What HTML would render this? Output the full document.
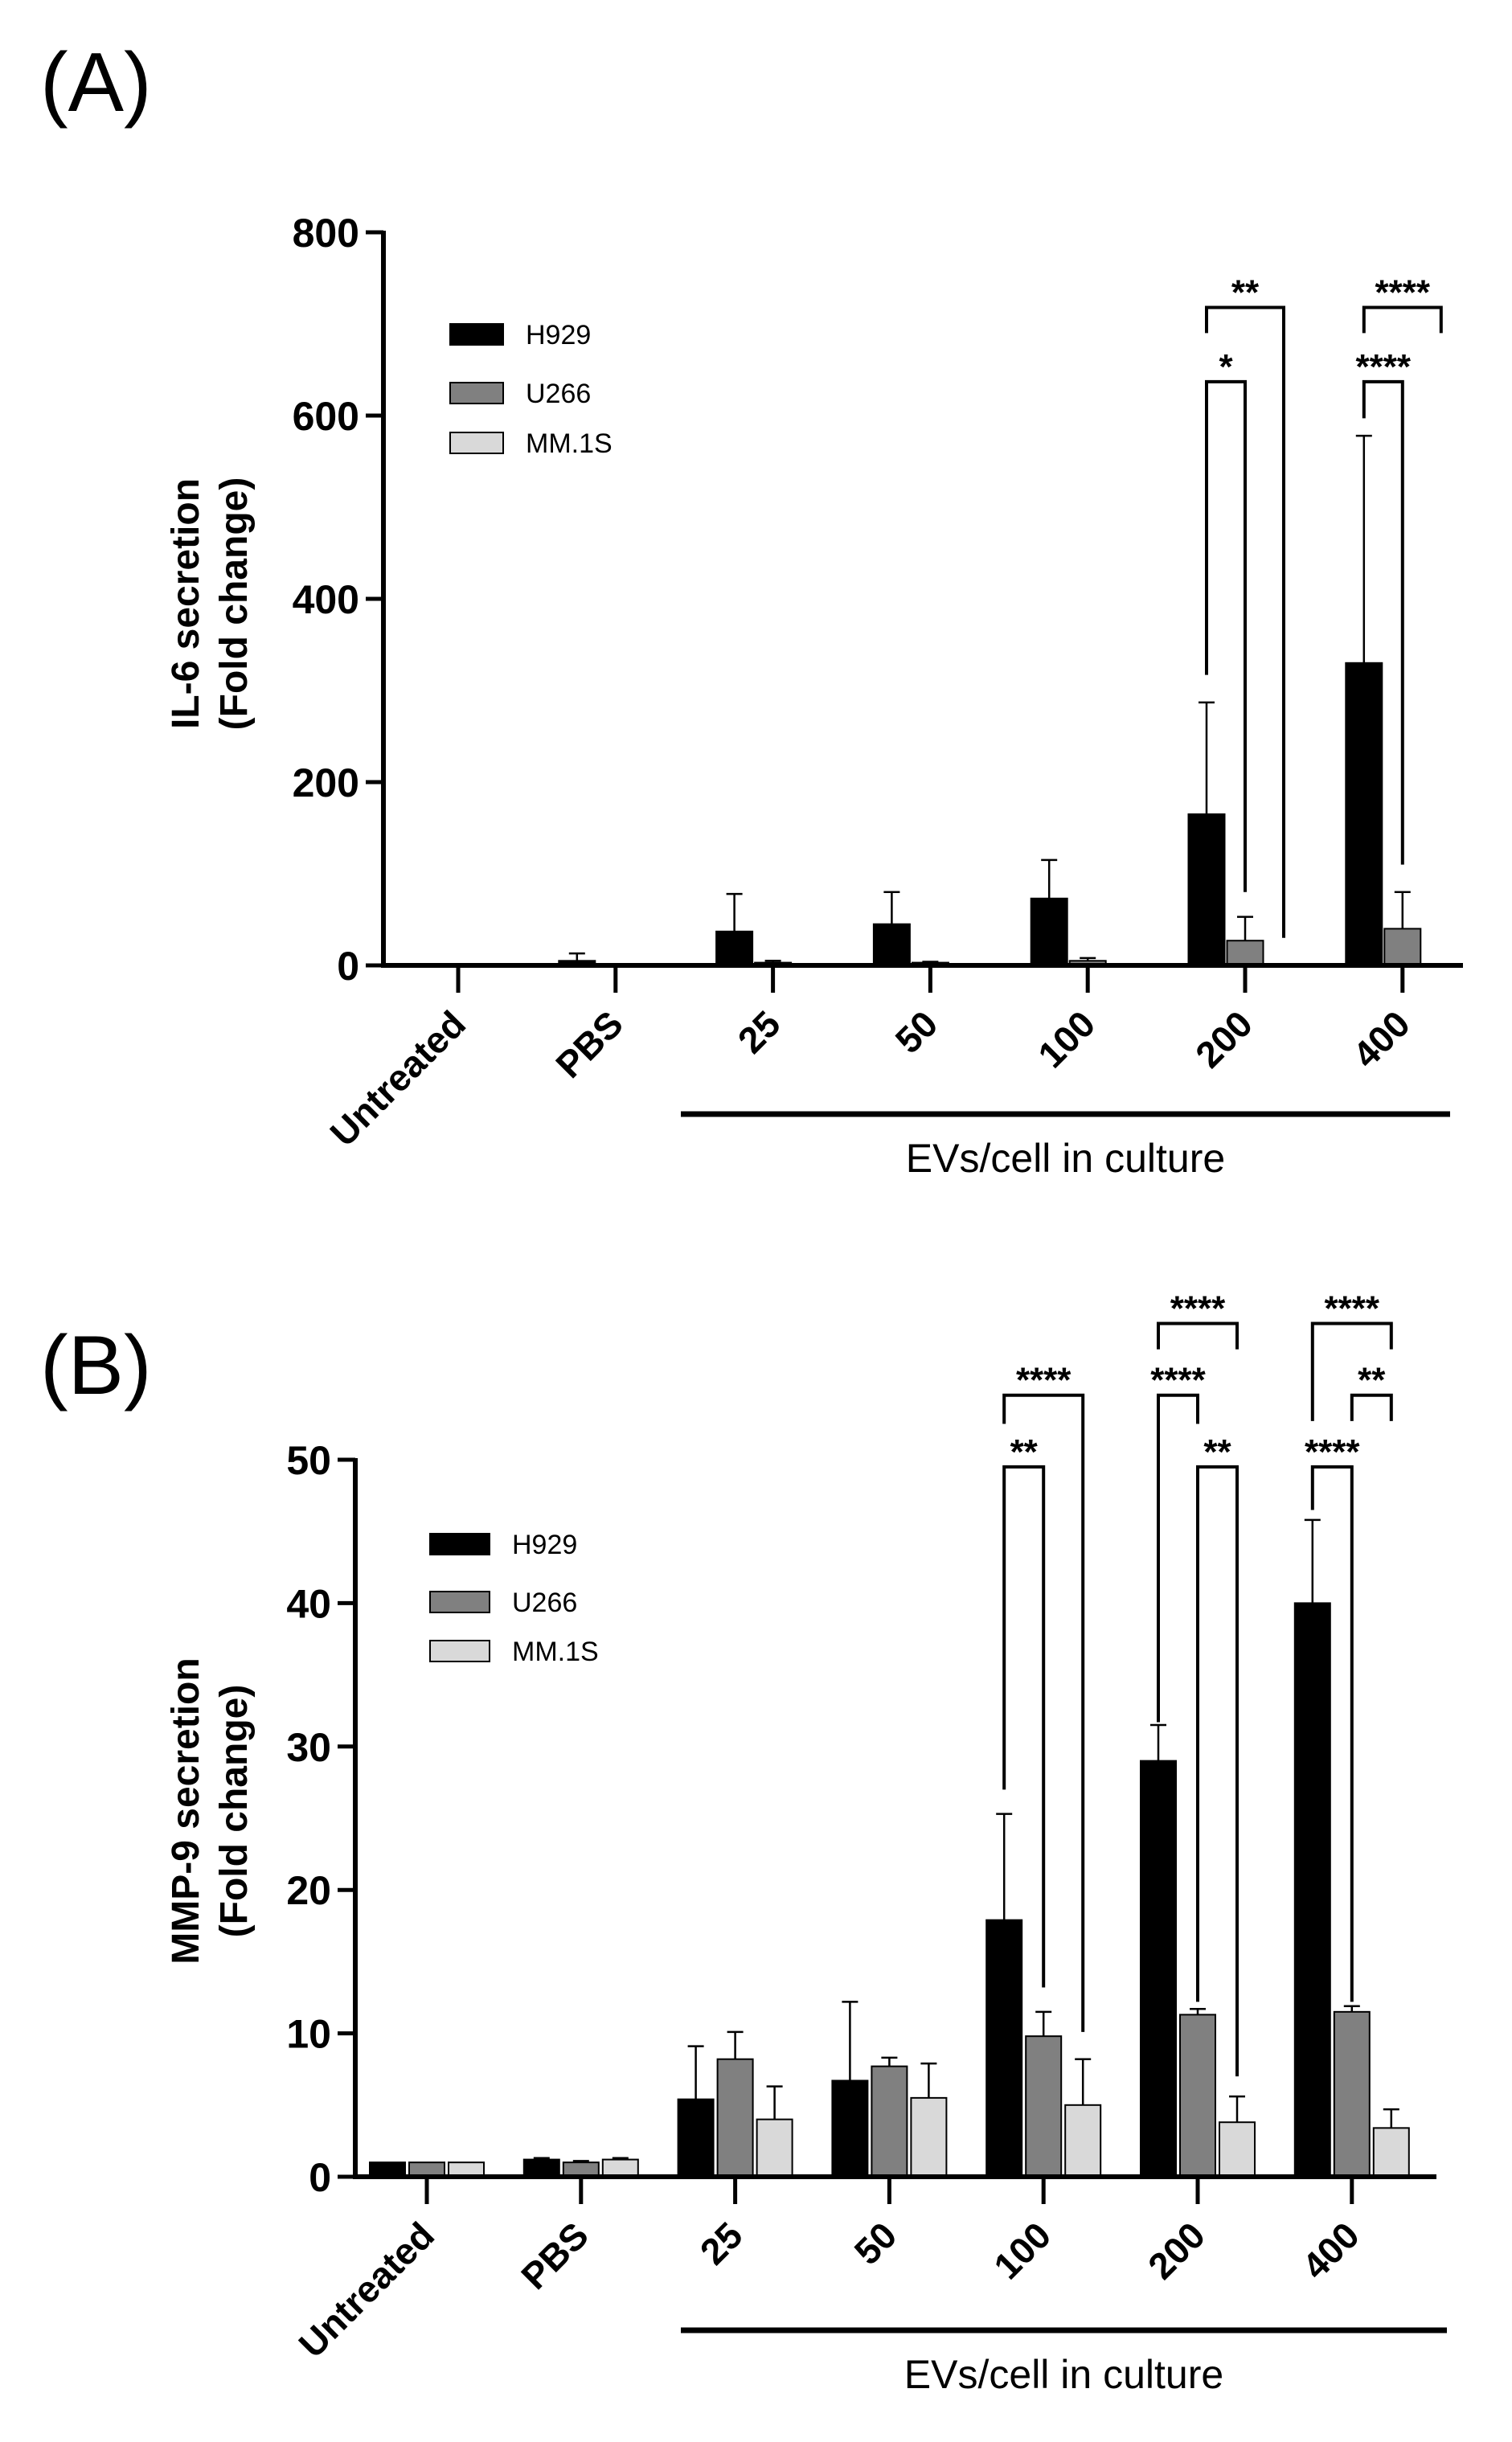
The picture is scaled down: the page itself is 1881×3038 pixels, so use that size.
<!DOCTYPE html>
<html><head><meta charset="utf-8">
<style>
html,body{margin:0;padding:0;background:#fff;}
svg{display:block;}
text{font-family:"Liberation Sans",Arial,sans-serif;}
</style></head>
<body>
<svg id="fig" width="1881" height="3038" viewBox="0 0 1881 3038" xmlns="http://www.w3.org/2000/svg">
<rect width="1881" height="3038" fill="#fff"/>
<text x="50" y="138" font-size="104">(A)</text>
<text x="50" y="1734" font-size="104">(B)</text>
</svg>
<script>
const categories = ["Untreated","PBS","25","50","100","200","400"];
const seriesNames = ["H929","U266","MM.1S"];
// Panel A (IL-6)
const aH929 = [1, 5, 37, 45, 73, 165, 330];
const aH929Err = [0, 8, 41, 35, 42, 122, 248];
const aU266 = [1, 1, 3, 3, 5, 27, 40];
const aU266Err = [0, 0, 2, 1, 3, 26, 40];
const aMM1S = [0, 0, 0, 0, 0, 0, 0];
const aMM1SErr = [0, 0, 0, 0, 0, 0, 0];
const aTicks = [0, 200, 400, 600, 800];
const aBrackets = [[5,0,1,637,317,80,"*"],[5,0,2,718,690,30,"**"],[6,0,1,637,597,110,"****"],[6,0,2,718,690,690,"****"]];
// Panel B (MMP-9)
const bH929 = [1.0, 1.2, 5.4, 6.7, 17.9, 29.0, 40.0];
const bH929Err = [0, 0.1, 3.7, 5.5, 7.4, 2.5, 5.8];
const bU266 = [1.0, 1.0, 8.2, 7.7, 9.8, 11.3, 11.5];
const bU266Err = [0, 0.1, 1.9, 0.6, 1.7, 0.4, 0.4];
const bMM1S = [1.0, 1.2, 4.0, 5.5, 5.0, 3.8, 3.4];
const bMM1SErr = [0, 0.1, 2.3, 2.4, 3.2, 1.8, 1.3];
const bTicks = [0, 10, 20, 30, 40, 50];
const bBrackets = [[4,0,1,49.5,27,13.2,"**"],[4,0,2,54.5,52.5,10.1,"****"],[5,0,1,54.5,31.7,52.5,"****"],[5,1,2,49.5,12.2,7,"**"],[5,0,2,59.5,57.7,57.7,"****"],[6,0,1,49.5,46.5,12.2,"****"],[6,1,2,54.5,52.7,52.7,"**"],[6,0,2,59.5,52.7,57.7,"****"]];

const NS="http://www.w3.org/2000/svg";
const svg=document.getElementById("fig");
function mk(tag,attrs,parent,txt){const e=document.createElementNS(NS,tag);for(const k in attrs)e.setAttribute(k,attrs[k]);if(txt!==undefined)e.textContent=txt;(parent||svg).appendChild(e);return e;}
const fills=["#000000","#808080","#d9d9d9"];

function drawPanel(p){
  const g=mk("g",{});
  
  
  const yMax=p.ticks[p.ticks.length-1];
  const ys=v=>p.y0-(v/yMax)*(p.y0-p.yTop);
  const xs=i=>p.x0+p.first+i*p.step;
  const bx=(i,s)=>xs(i)+(s-1)*p.off;
  p.series.forEach((vals,s)=>{
    vals.forEach((v,i)=>{
      if(v<=0)return;
      const x=bx(i,s);
      const r=mk("rect",{x:x-p.bw/2,y:ys(v),width:p.bw,height:p.y0-ys(v),fill:fills[s],stroke:"#000","stroke-width":2},g);
      
      
      const e=p.errs[s][i];
      if(e>0){
        const l=mk("path",{d:`M${x} ${ys(v)}V${ys(v+e)}M${x-10} ${ys(v+e)}H${x+10}`,stroke:"#000","stroke-width":2.5,fill:"none"},g);
        
        
      }
    });
  });
  const ya=mk("line",{x1:p.x0,y1:p.yTop-2,x2:p.x0,y2:p.y0+3,stroke:"#000","stroke-width":6},g);
  
  
  const xa=mk("line",{x1:p.x0-3,y1:p.y0,x2:p.xEnd,y2:p.y0,stroke:"#000","stroke-width":6},g);
  
  
  p.ticks.forEach(t=>{
    mk("line",{x1:p.x0-22,y1:ys(t),x2:p.x0,y2:ys(t),stroke:"#000","stroke-width":5},g);
    const tl=mk("text",{x:p.x0-30,y:ys(t)+18,"font-size":50,"font-weight":"bold","text-anchor":"end"},g,String(t));
    
    
  });
  categories.forEach((c,i)=>{
    const x=xs(i);
    mk("line",{x1:x,y1:p.y0,x2:x,y2:p.y0+34,stroke:"#000","stroke-width":5},g);
    const tx=x+12, ty=p.y0+76;
    const tl=mk("text",{x:tx,y:ty,"font-size":46,"font-weight":"bold","text-anchor":"end",transform:`rotate(-45 ${tx} ${ty})`},g,c);
    
    
  });
  const t1=mk("text",{x:p.titleX1,y:p.titleY,"font-size":48,"font-weight":"bold","text-anchor":"middle",transform:`rotate(-90 ${p.titleX1} ${p.titleY})`},g,p.title);
  
  
  const t2=mk("text",{x:p.titleX1+60,y:p.titleY,"font-size":48,"font-weight":"bold","text-anchor":"middle",transform:`rotate(-90 ${p.titleX1+60} ${p.titleY})`},g,"(Fold change)");
  
  
  seriesNames.forEach((n,s)=>{
    const ly=p.legY[s];
    const sw=mk("rect",{x:p.legX,y:ly-13,width:p.legW,height:26,fill:fills[s],stroke:"#000","stroke-width":2},g);
    
    
    const lt=mk("text",{x:p.legX+p.legW+28,y:ly+12,"font-size":34},g,n);
    
    
  });
  const gl=mk("line",{x1:p.lineX1,y1:p.lineY,x2:p.lineX2,y2:p.lineY,stroke:"#000","stroke-width":7},g);
  
  
  const gt=mk("text",{x:(p.lineX1+p.lineX2)/2,y:p.lineY+72,"font-size":50,"text-anchor":"middle"},g,"EVs/cell in culture");
  
  
  p.brackets.forEach(b=>{
    const [gi,s1,s2,top,lb,rb,lab]=b;
    const x1=bx(gi,s1), x2=bx(gi,s2);
    const br=mk("path",{d:`M${x1} ${ys(lb)}V${ys(top)}H${x2}V${ys(rb)}`,stroke:"#000","stroke-width":4,fill:"none"},g);
    
    
    const bt=mk("text",{x:(x1+x2)/2,y:ys(top)-4,"font-size":44,"font-weight":"bold","text-anchor":"middle"},g,lab);
    
    
  });
}

drawPanel({id:"il6",x0:477,y0:1201,yTop:289,xEnd:1820,first:93,step:195.8,off:48,bw:45,
  ticks:aTicks,series:[aH929,aU266,aMM1S],errs:[aH929Err,aU266Err,aMM1SErr],brackets:aBrackets,
  title:"IL-6 secretion",titleX1:247,titleY:751,legX:560,legW:66,legY:[416,489,551],
  lineX1:847,lineX2:1804,lineY:1386});
drawPanel({id:"mmp9",x0:442,y0:2708,yTop:1816,xEnd:1787,first:89,step:191.8,off:49,bw:44,
  ticks:bTicks,series:[bH929,bU266,bMM1S],errs:[bH929Err,bU266Err,bMM1SErr],brackets:bBrackets,
  title:"MMP-9 secretion",titleX1:247,titleY:2253,legX:535,legW:74,legY:[1921,1993,2054],
  lineX1:847,lineX2:1800,lineY:2899});
</script>
</body></html>
